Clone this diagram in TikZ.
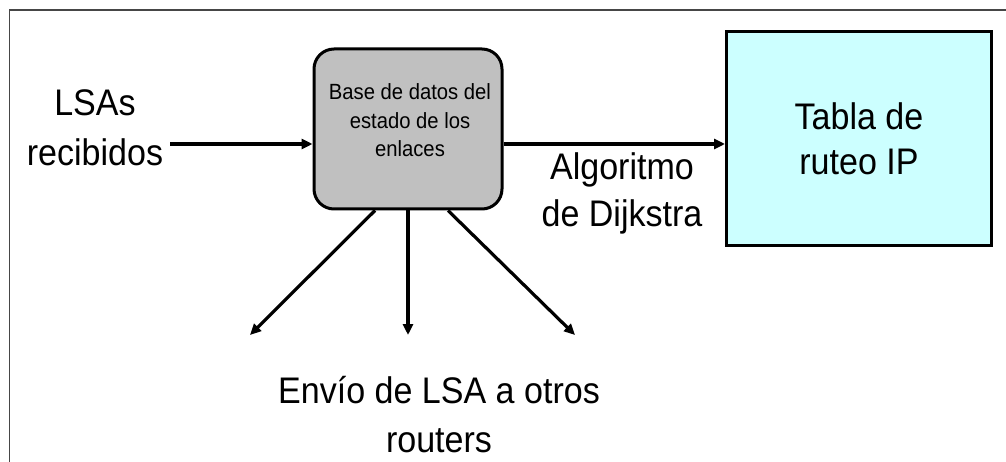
\documentclass[tikz,border=0pt]{standalone}
\usepackage{fontspec}
\setmainfont{Liberation Sans}[FakeStretch=0.92]
\usetikzlibrary{arrows.meta,calc}

\definecolor{dbgray}{RGB}{192,192,192}
\definecolor{tablecyan}{RGB}{204,255,255}
\definecolor{framegray}{RGB}{70,70,70}

\tikzset{
  bigtext/.style={font=\fontsize{37}{47}\selectfont, align=center, anchor=base, inner sep=0pt},
  smalltext/.style={font=\fontsize{22}{28.5}\selectfont, align=center, anchor=base, inner sep=0pt},
  dbbox/.style={draw, line width=3pt, fill=dbgray, rounded corners=20pt,
    minimum width=188pt, minimum height=160pt, inner sep=0pt},
  tablebox/.style={draw, line width=3pt, fill=tablecyan, minimum width=265pt,
    minimum height=214pt, font=\fontsize{37}{45}\selectfont, align=center},
  flow/.style={line width=3.2pt, -{Triangle[length=11pt,width=10pt]}},
}

\begin{document}
\begin{tikzpicture}[x=1pt,y=-1pt]
    \useasboundingbox (0,0) rectangle (1006,462);
    \fill[white] (0,0) rectangle (1006,462);
    % frame of the slide
    \draw[framegray, line width=1.5pt] (9.5,462) -- (9.5,10) -- (1006,10);

    % link state database (base = last line)
    \node[dbbox] (lsdb) at (408,129) {};
    \node[smalltext] (lsdbtext) at (410,157) {Base de datos del\\estado de los\\enlaces};

    % routing table
    \node[tablebox] (rtable) at (859,139) {Tabla de\\ruteo IP};

    % labels
    \node[bigtext, font=\fontsize{37}{50}\selectfont] (lsain) at (95,166) {LSAs\\recibidos};
    \node[bigtext] (dijkstra) at (622,227) {Algoritmo\\de Dijkstra};
    \node[bigtext, font=\fontsize{37}{49}\selectfont] (flood) at (439,452) {Envío de LSA a otros\\routers};

    % incoming and outgoing arrows
    \coordinate (infrom) at (170,144);
    \draw[flow] (infrom) -- (infrom -| lsdb.west);
    \draw[flow] (lsdb.east |- infrom) -- (rtable.west |- infrom);

    % flooding to the other routers
    \coordinate (toleft) at (250,335);
    \coordinate (tomid) at (408,335);
    \coordinate (toright) at (575,335);
    \draw[flow] ($(lsdb.south)+(-33,0)$) -- (toleft);
    \draw[flow] (lsdb.south) -- (tomid);
    \draw[flow] ($(lsdb.south)+(40,0)$) -- (toright);
\end{tikzpicture}
\end{document}
